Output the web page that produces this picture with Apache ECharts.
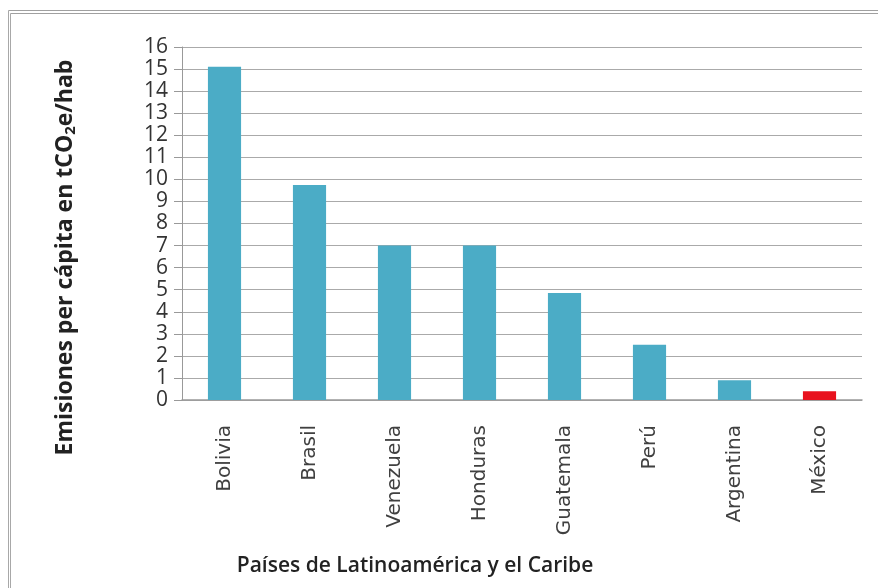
<!DOCTYPE html>
<html>
<head>
<meta charset="utf-8">
<script src="https://cdn.jsdelivr.net/npm/echarts@6.0.0/dist/echarts.min.js"></script>
<style>
  html, body { margin: 0; padding: 0; background: #fff; }
  #frame { position: absolute; left: 8px; top: 10px; width: 872px; height: 580px;
           border-top: 4px double #a0a0a0; border-left: 3px double #a8a8a8; box-sizing: border-box; }
  #chart { width: 878px; height: 588px; position: absolute; left: 0; top: 0; }
</style>
</head>
<body>
<div id="frame"></div>
<div id="chart"></div>
<script>
// datos
const paises = ['Bolivia', 'Brasil', 'Venezuela', 'Honduras', 'Guatemala', 'Perú', 'Argentina', 'México'];
const emisiones = [15.1, 9.75, 7.0, 7.0, 4.85, 2.5, 0.9, 0.4];
const colorBase = '#4bacc6';
const colorMexico = '#e8111d';

const chart = echarts.init(document.getElementById('chart'));

const option = {
    animation: false,
    grid: { left: 182, right: 16, top: 47, bottom: 188 },
    xAxis: {
        type: 'category',
        data: paises,
        name: 'Países de Latinoamérica y el Caribe',
        nameLocation: 'middle',
        nameGap: 156,
        nameTextStyle: { fontFamily: 'Open Sans', fontWeight: 600, fontSize: 21, color: '#222', padding: [0, 0, 0, -214] },
        axisLine: { lineStyle: { color: '#999', width: 1.5 } },
        axisTick: { show: false },
        axisLabel: { rotate: 90, fontFamily: 'DejaVu Sans', fontSize: 20, color: '#404040', margin: 25 }
    },
    yAxis: {
        type: 'value',
        min: 0,
        max: 16,
        interval: 1,
        name: 'Emisiones per cápita en tCO{sub|2}e/hab',
        nameLocation: 'middle',
        nameGap: 104,
        nameRotate: 90,
        nameTextStyle: {
            fontFamily: 'Open Sans', fontWeight: 'bold', fontSize: 23, color: '#222',
            padding: [0, 68, 0, 0],
            rich: { sub: { fontFamily: 'Open Sans', fontWeight: 'bold', fontSize: 15, verticalAlign: 'bottom', padding: [10, 0, 0, 0] } }
        },
        axisLine: { show: true, lineStyle: { color: '#999' } },
        axisTick: { show: true, length: 8, lineStyle: { color: '#999' } },
        axisLabel: { fontFamily: 'Open Sans', fontSize: 21, color: '#333', margin: 14 },
        splitLine: { lineStyle: { color: '#aaa', width: 1.2 } }
    },
    series: [{
        type: 'bar',
        barWidth: '39%',
        data: emisiones.map((v, i) => ({
            value: v,
            itemStyle: { color: paises[i] === 'México' ? colorMexico : colorBase }
        }))
    }]
};

chart.setOption(option);
</script>
</body>
</html>
